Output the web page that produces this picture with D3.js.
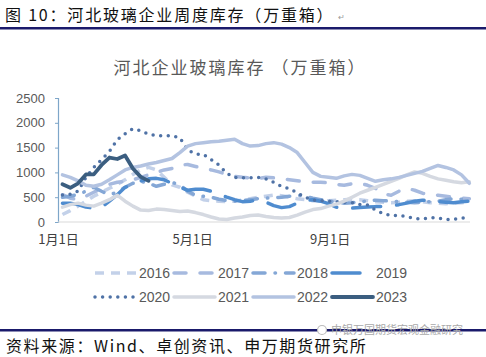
<!DOCTYPE html>
<html>
<head>
<meta charset="utf-8">
<script src="https://cdn.jsdelivr.net/npm/d3@7"></script>
<style>
  body { margin: 0; background: #fff; }
  svg { display: block; }
</style>
</head>
<body>
<div id="chart"></div>
<script>
var WIDTH = 486;
var HEIGHT = 357;

// weekly inventory (万重箱), index = week of the year
var years = ["2016", "2017", "2018", "2019", "2020", "2021", "2022", "2023"];

var v2016 = [150, 230, 320, 420, 520, 600, 680, 760, 850, 960, 1050, 1100, 1050, 900, 750, 700,
             600, 520, 450, 430, 420, 410, 420, 440, 470, 500, 520, 540, 530, 500, 470, 450,
             430, 420, 430, 440, 450, 460, 450, 430, 410, 400, 390, 400, 420, 430, 410, 390,
             380, 370, 380, 390, 400];
var v2017 = [550, 480, 450, 520, 600, 680, 760, 800, 820, 850, 900, 950, 1000, 1050, 1080, 1150,
             1160, 1120, 1080, 1050, 1010, 960, 920, 900, 890, 880, 900, 890, 870, 850, 830, 810,
             800, 800, 790, 760, 740, 770, 780, 740, 680, 560, 540, 620, 680, 640, 580, 560,
             540, 520, 500, 480, 470];
var v2018 = [500, 520, 560, 620, 700, 620, 550, 600, 700, 780, 820, 780, 720, 760, 800, 750,
             620, 540, 520, 500, 460, 430, 420, 430, 450, 470, 480, 490, 500, 520, 540, 520,
             480, 450, 430, 400, 380, 390, 410, 420, 440, 430, 420, 410, 400, 390, 400, 410,
             420, 450, 470, 460, 440];
var v2019 = [380, 380, 350, 300, 280, 300, 420, 550, 700, 760, 830, 870, 880, 850, 780, 700,
             640, 660, 660, 620, 560, 500, 450, 410, 420, 440, 400, 330, 290, 310, 380, 430,
             450, 420, 370, 300, 280, 280, 290, 300, 310, 310, 330, 350, 380, 420, 440, 430,
             410, 400, 390, 410, 420];
var v2020 = [545, 560, 625, 900, 1100, 1260, 1420, 1660, 1780, 1880, 1840, 1770, 1740, 1740, 1740, 1700,
             1450, 1370, 1365, 1260, 1150, 980, 900, 890, 890, 900, 870, 800, 715, 670, 590, 500,
             440, 430, 420, 410, 400, 390, 355, 340, 240, 170, 130, 135, 110, 70, 65, 85,
             80, 50, 55, 80, 80];
var v2021 = [300, 350, 380, 340, 320, 380, 450, 540, 420, 320, 240, 230, 260, 250, 230, 210,
             220, 190, 150, 100, 60, 50, 80, 100, 130, 140, 110, 90, 80, 90, 140, 200,
             250, 270, 320, 360, 420, 500, 580, 640, 700, 760, 820, 880, 950, 1010, 980, 920,
             870, 840, 810, 790, 810];
var v2022 = [950, 900, 830, 740, 720, 760, 850, 950, 1050, 1100, 1130, 1170, 1200, 1240, 1280, 1400,
             1530, 1580, 1600, 1620, 1630, 1650, 1670, 1580, 1530, 1540, 1580, 1600, 1570, 1500, 1400, 1200,
             1000, 920, 900, 880, 930, 960, 940, 880, 820, 850, 870, 900, 940, 980, 1020, 1080,
             1140, 1100, 1050, 950, 780];
var v2023 = [760, 690, 780, 960, 960, 1150, 1300, 1270, 1340, 1080, 910, 830];

var seriesValues = [v2016, v2017, v2018, v2019, v2020, v2021, v2022, v2023];

var yTicks = [0, 500, 1000, 1500, 2000, 2500];
var xTickDays = [0, 120, 243];
var xTickLabels = ["1月1日", "5月1日", "9月1日"];

var styles = {
    "2016": { color: "#c3d1e9", dash: "9,7", width: 3.5, cap: "butt" },
    "2017": { color: "#a7badf", dash: "12,14", width: 3.5, cap: "round" },
    "2018": { color: "#84a7d6", dash: "12,10,0.5,10", width: 3.5, cap: "round" },
    "2019": { color: "#4f8ccf", dash: "28,16", width: 3.5, cap: "round" },
    "2020": { color: "#4f72a6", dash: "0,7.6", width: 3.5, cap: "round" },
    "2021": { color: "#d5d9e1", dash: null, width: 3.5, cap: "round" },
    "2022": { color: "#b3c3e1", dash: null, width: 3.5, cap: "round" },
    "2023": { color: "#3b5e80", dash: null, width: 3.8, cap: "round" }
};

var FONT = "'Noto Sans CJK SC', 'Noto Sans', sans-serif";

var svg = d3.select("#chart").append("svg")
            .attr("width", WIDTH)
            .attr("height", HEIGHT);

// header
svg.append("text")
   .attr("x", 5)
   .attr("y", 21)
   .attr("font-family", FONT)
   .attr("font-size", 16)
   .attr("letter-spacing", 1.8)
   .attr("fill", "#111")
   .text("图 10：河北玻璃企业周度库存（万重箱）");
svg.append("text")
   .attr("x", 338)
   .attr("y", 20)
   .attr("font-family", FONT)
   .attr("font-size", 8)
   .attr("fill", "#999")
   .text("↵");

svg.append("rect")
   .attr("x", 0).attr("y", 27)
   .attr("width", WIDTH).attr("height", 2.5)
   .attr("fill", "#1a1a6b");

// chart title
svg.append("text")
   .attr("x", 240)
   .attr("y", 74)
   .attr("text-anchor", "middle")
   .attr("font-family", FONT)
   .attr("font-size", 17)
   .attr("letter-spacing", 2)
   .attr("fill", "#595959")
   .text("河北企业玻璃库存 （万重箱）");

// scales
var x = d3.scaleLinear().domain([0, 365]).range([58, 466]);
var y = d3.scaleLinear().domain([0, 2500]).range([222, 98]);

function weekDay(i) { return i * 7 + 4; }

// y axis
var yAxis = svg.append("g")
               .attr("transform", "translate(58,0)")
               .call(d3.axisLeft(y).tickValues(yTicks).tickFormat(d3.format("d"))
                        .tickSize(3).tickPadding(10));
yAxis.select(".domain").attr("stroke", "#7ea6c9").attr("stroke-width", 1.2);
yAxis.selectAll(".tick line").attr("stroke", "#7ea6c9");
yAxis.selectAll(".tick text")
     .attr("font-family", "'Liberation Sans', Arial, sans-serif")
     .attr("font-size", 13)
     .attr("fill", "#595959");

// x axis
var xAxis = svg.append("g")
               .attr("transform", "translate(0,222)")
               .call(d3.axisBottom(x).tickValues(xTickDays)
                        .tickFormat(function(d, i) { return xTickLabels[i]; })
                        .tickSize(0).tickPadding(13));
xAxis.select(".domain").attr("stroke", "#d9d9d9").attr("stroke-width", 1.2)
     .attr("d", "M58,0H470");
xAxis.selectAll(".tick text")
     .attr("font-family", FONT)
     .attr("font-size", 13)
     .attr("fill", "#404040");

// series lines
var line = d3.line()
             .x(function(d, i) { return x(weekDay(i)); })
             .y(function(d) { return y(d); })
             .curve(d3.curveLinear);

var plot = svg.append("g");
years.forEach(function(yr, k) {
    var s = styles[yr];
    plot.append("path")
        .datum(seriesValues[k])
        .attr("d", line)
        .attr("fill", "none")
        .attr("stroke", s.color)
        .attr("stroke-width", s.width)
        .attr("stroke-linecap", s.cap)
        .attr("stroke-linejoin", "round")
        .attr("stroke-dasharray", s.dash);
});

// legend
var legendCols = [93, 172, 251, 330];
var legendRows = [273, 297];
var legend = svg.append("g");
years.forEach(function(yr, k) {
    var s = styles[yr];
    var lx = legendCols[k % 4];
    var ly = legendRows[Math.floor(k / 4)];
    legend.append("line")
          .attr("x1", lx + 2).attr("x2", lx + 43)
          .attr("y1", ly).attr("y2", ly)
          .attr("stroke", s.color)
          .attr("stroke-width", s.width)
          .attr("stroke-linecap", s.cap)
          .attr("stroke-dasharray", s.dash);
    legend.append("text")
          .attr("x", lx + 46)
          .attr("y", ly + 5)
          .attr("font-family", "'Liberation Sans', Arial, sans-serif")
          .attr("font-size", 14)
          .attr("fill", "#595959")
          .text(yr);
});

// footer
svg.append("rect")
   .attr("x", 0).attr("y", 329)
   .attr("width", WIDTH).attr("height", 2.5)
   .attr("fill", "#1a1a6b");

svg.append("text")
   .attr("x", 6)
   .attr("y", 352)
   .attr("font-family", FONT)
   .attr("font-size", 16)
   .attr("letter-spacing", 1.6)
   .attr("fill", "#111")
   .text("资料来源：Wind、卓创资讯、申万期货研究所");

// watermark
svg.append("circle")
   .attr("cx", 322).attr("cy", 330).attr("r", 4.5)
   .attr("fill", "#fff").attr("stroke", "#bbb").attr("stroke-width", 1.2);
svg.append("text")
   .attr("x", 331)
   .attr("y", 334)
   .attr("font-family", FONT)
   .attr("font-size", 11)
   .attr("fill", "#aaa")
   .text("申银万国期货宏观金融研究");
</script>
</body>
</html>
